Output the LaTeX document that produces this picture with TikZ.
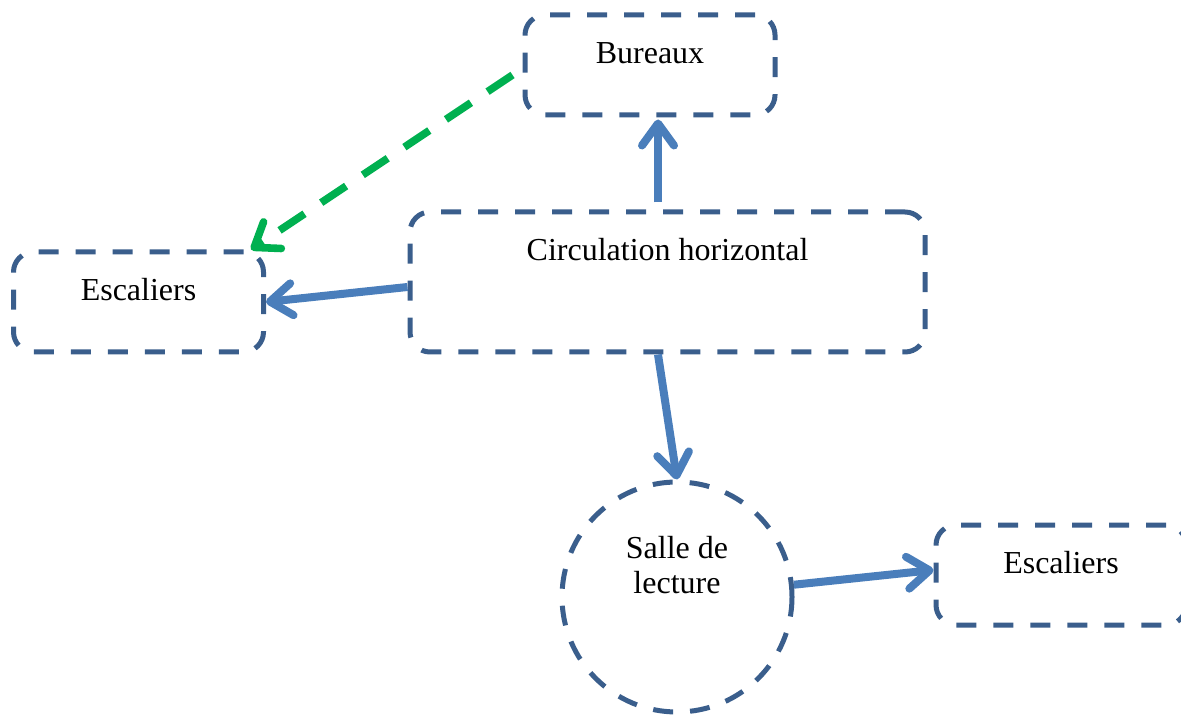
\documentclass[tikz,border=0pt]{standalone}
\usepackage{fontspec}
\setmainfont{Liberation Serif}
\usetikzlibrary{calc,arrows.meta}
\definecolor{frame}{HTML}{3A5E8C}
\definecolor{arrowblue}{HTML}{4A7EBB}
\definecolor{arrowgreen}{HTML}{00B050}
\tikzset{
  box/.style={draw=frame, line width=2.5pt, dash pattern=on 10pt off 8.5pt,
    rounded corners=10pt, minimum width=125pt, minimum height=50pt, inner sep=0pt,
    font=\fontsize{16}{17.5}\selectfont, text height=11pt, text depth=12pt},
  ring/.style={draw=frame, line width=2.5pt, dash pattern=on 10pt off 8.5pt,
    circle, minimum size=115pt, inner sep=0pt},
  lbl/.style={font=\fontsize{16}{17.5}\selectfont, align=center},
  bline/.style={draw=arrowblue, line width=4pt, -{Straight Barb[round,length=11pt,width=16pt]}},
  gline/.style={draw=arrowgreen, line width=3.8pt, dash pattern=on 15pt off 10pt,
    -{Straight Barb[round,length=11pt,width=16pt]}}
}

\begin{document}
\begin{tikzpicture}[x=0.5pt, y=-0.5pt]
  \useasboundingbox (0,0) rectangle (1181,715);

  \node[box] (bur) at (650,65) {Bureaux};
  \node[box, minimum width=257.5pt, minimum height=70pt, text depth=32pt] (circ) at (667.5,282) {Circulation horizontal};
  \node[box] (escl) at (138.5,302) {Escaliers};
  \node[box, text depth=13pt] (escr) at (1061,575) {Escaliers};
  \node[ring] (salle) at (677,597) {};
  \node[lbl] (sallelbl) at (677,565) {Salle de\\lecture};

  \draw[bline] ($(circ.north)+(-9.5,-7)$) -- ($(bur.south)+(8,2)$);
  \draw[bline] ($(circ.west)+(0,5)$) -- (escl.east);
  \draw[bline] ($(circ.south)+(-9.5,0)$) -- (salle.north);
  \draw[bline] (salle.6) -- ($(escr.west)+(0,-5)$);
  \draw[gline] ($(bur.west)+(-10,10)$) -- ($(escl.north east)+(-15,0)$);
\end{tikzpicture}
\end{document}
